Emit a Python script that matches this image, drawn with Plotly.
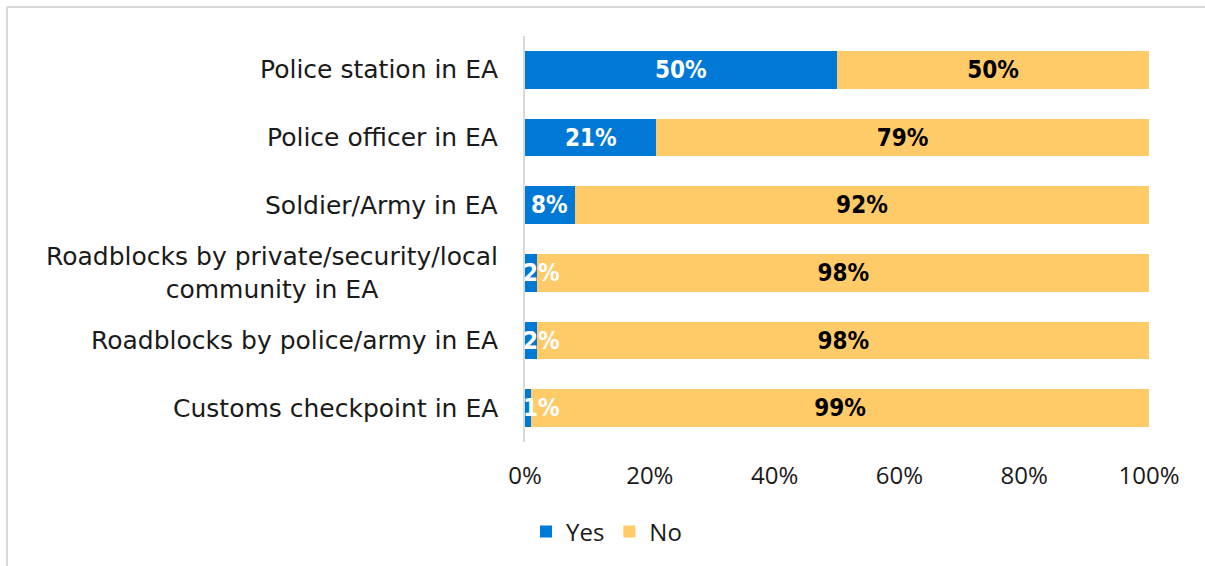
import plotly.graph_objects as go

# Survey items (top to bottom) and shares of respondents, in percent
categories = [
    "Police station in EA",
    "Police officer in EA",
    "Soldier/Army in EA",
    "Roadblocks by private/security/local<br>community in EA",
    "Roadblocks by police/army in EA",
    "Customs checkpoint in EA",
]
yes_pct = [50, 21, 8, 2, 2, 1]
no_pct = [50, 79, 92, 98, 98, 99]
x_ticks = [0, 20, 40, 60, 80, 100]
x_tick_labels = ["0%", "20%", "40%", "60%", "80%", "100%"]

BLUE = "#0078D6"
YELLOW = "#FFCA68"
TEXT_FONT = "Open Sans"
LABEL_FONT = "DejaVu Sans"
VALUE_FONT = "DejaVu Sans Condensed"
TEXT_COLOR = "#1a1a1a"

# Plotly draws horizontal categories bottom-up, so reverse for top-down order
cats_r = categories[::-1]
yes_r = yes_pct[::-1]
no_r = no_pct[::-1]

fig = go.Figure()
fig.add_trace(go.Bar(
    y=cats_r, x=yes_r, name="Yes", orientation="h",
    marker=dict(color=BLUE, line=dict(width=0)),
    hoverinfo="skip",
))
fig.add_trace(go.Bar(
    y=cats_r, x=no_r, name="No", orientation="h",
    marker=dict(color=YELLOW, line=dict(width=0)),
    text=[f"{v}%" for v in no_r], textposition="inside",
    insidetextanchor="middle", constraintext="none",
    textfont=dict(family=VALUE_FONT, size=24, color="black", weight="bold"),
    hoverinfo="skip",
))

annotations = []
# "Yes" value labels sit on top of both bars (white text)
for cat, v in zip(cats_r, yes_r):
    small = v < 5
    annotations.append(dict(
        x=0 if small else v / 2, y=cat, xref="x", yref="y",
        text=f"{v}%", showarrow=False,
        xanchor="left" if small else "center", xshift=-4 if small else 0,
        font=dict(family=VALUE_FONT, size=24, color="white", weight="bold"),
    ))
# Category labels, centred line by line and right-aligned to the axis
for cat in cats_r:
    annotations.append(dict(
        x=0, y=cat, xref="paper", yref="y", text=cat, showarrow=False,
        xanchor="right", align="center", xshift=-25,
        font=dict(family=LABEL_FONT, size=25, color=TEXT_COLOR),
    ))

L, R, T, B = 525, 56, 36, 124
W, H = 1205, 566
pw, ph = W - L - R, H - T - B
def px_x(p):
    return (p - L) / pw
def px_y(p):
    return (H - B - p) / ph

# Light frame along the top and left edges of the chart area
frame = dict(color="#D9D9D9", width=2)
shapes = [
    dict(type="line", xref="paper", yref="paper",
         x0=px_x(7), x1=px_x(1210), y0=px_y(7), y1=px_y(7), line=frame, layer="below"),
    dict(type="line", xref="paper", yref="paper",
         x0=px_x(7), x1=px_x(7), y0=px_y(7), y1=px_y(570), line=frame, layer="below"),
]

fig.update_layout(
    width=W, height=H,
    margin=dict(l=L, r=R, t=T, b=B),
    barmode="stack", bargap=0.44,
    plot_bgcolor="white", paper_bgcolor="white",
    font=dict(family=TEXT_FONT, size=24, color=TEXT_COLOR),
    xaxis=dict(
        range=[0, 100], tickvals=x_ticks, ticktext=x_tick_labels,
        showgrid=False, zeroline=False, showline=False,
        ticks="", ticklabelstandoff=17,
        tickfont=dict(family=TEXT_FONT, size=24, color=TEXT_COLOR),
        fixedrange=True,
    ),
    yaxis=dict(
        categoryorder="array", categoryarray=cats_r,
        range=[-0.5, len(cats_r) - 0.5],
        showticklabels=False, showgrid=False, zeroline=False,
        showline=True, linecolor="#D9D9D9", linewidth=1.5,
        ticks="", fixedrange=True,
    ),
    legend=dict(
        orientation="h", traceorder="normal",
        x=px_x(526), xanchor="left",
        y=px_y(532), yanchor="middle",
        font=dict(family=TEXT_FONT, size=24, color=TEXT_COLOR),
        itemwidth=30, tracegroupgap=0,
    ),
    annotations=annotations,
    shapes=shapes,
)

fig.write_html("out.html")
